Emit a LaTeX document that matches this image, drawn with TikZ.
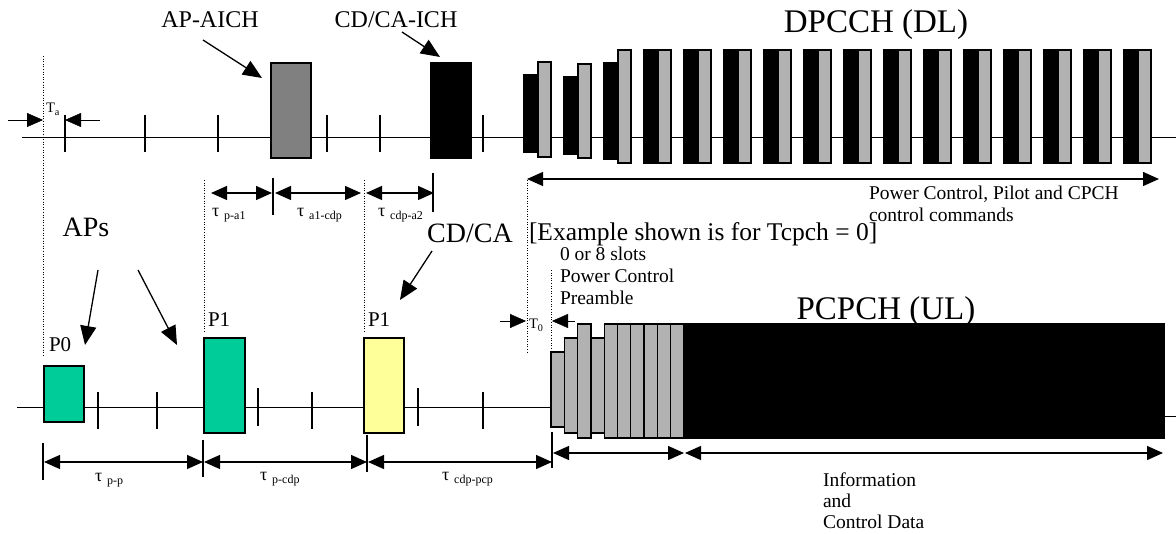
\documentclass[tikz,border=0pt]{standalone}
\usepackage{fontspec}
\setmainfont{Liberation Serif}
\usepackage{xcolor}
\usepackage{tikz}
\usetikzlibrary{arrows.meta}
\definecolor{PGreen}{HTML}{00CC99}
\definecolor{PYellow}{HTML}{FFFF99}
\definecolor{PGray}{HTML}{B2B2B2}
\definecolor{AGray}{HTML}{808080}
\newcommand{\taulbl}[1]{{\fontsize{18}{18}\selectfont τ}\hspace{5pt}\raisebox{-3pt}{\fontsize{12}{12}\selectfont #1}}
\tikzset{%Global config
	>={Triangle[length=16pt,width=14pt]},
	x=1pt, y=-1pt,
	color = black ,
	line width=1.3pt,
	%Styles
	Tick/.style={line width=1.3pt},
	Guide/.style={
		line width=0.9pt,
		dash pattern=on 1pt off 1.6pt,
	},
	Slot/.style={
		draw=black,
		line width=1.3pt,
		inner sep=0pt,
		outer sep=0pt,
		anchor=north west,
	},
	Bar/.style={draw=black, line width=1.3pt},
	Dim/.style={<->, line width=1.3pt},
	Ptr/.style={-{Triangle[length=19pt,width=16pt]}, line width=1.3pt},
	Txt/.style={inner sep=0pt, outer sep=0pt, anchor=base},
	FBig/.style={font=\fontsize{33}{36}\selectfont},
	FMid/.style={font=\fontsize{28}{30}\selectfont},
	FEx/.style={font=\fontsize{25.5}{28}\selectfont},
	FAich/.style={font=\fontsize{24}{26}\selectfont},
	FP/.style={font=\fontsize{21}{23}\selectfont},
	FSmall/.style={font=\fontsize{19.5}{22}\selectfont},
	FInfo/.style={font=\fontsize{19.5}{21}\selectfont},
	FT/.style={font=\fontsize{14.5}{16}\selectfont},
}

\begin{document}
\begin{tikzpicture}
	\useasboundingbox (0,0) rectangle (1176,534);
	
	% DL time axis
	\draw (22,137) -- (1176,137);
	\foreach \t in {65,145,218,327,380,483}{
		\draw[Tick] (\t,115) -- (\t,152);
	}
	% UL time axis
	\draw (17,407) -- (551,407);
	\draw (1164,416) -- (1176,416);
	\foreach \t/\a/\b in {98/392/429,157/392/429,258/388/426,312/392/429,418/388/426,483/392/429}{
		\draw[Tick] (\t,\a) -- (\t,\b);
	}
	
	% dotted guides
	\draw[Guide] (43,56) -- (43,357);
	\draw[Guide] (204,180) -- (204,332);
	\draw[Guide] (364,180) -- (364,332);
	\draw[Guide] (527,180) -- (527,353);
	\draw[Guide] (551,270) -- (551,352);
	
	% DL indicators
	\node[Slot, fill=AGray, minimum width=40, minimum height=95] (apaich) at (271,63) {};
	\node[Slot, fill=black, minimum width=40, minimum height=95] (cdaich) at (431,63) {};
	
	% DPCCH slots (first three ramp up)
	\foreach \k/\bt/\bb/\gt/\gb in {0/75/152/62/157, 1/77/154/64/158, 2/63/159/50/163}{
		\draw[Bar, fill=black] (524+40*\k,\bt) rectangle (538+40*\k,\bb);
		\draw[Bar, fill=PGray] (538+40*\k,\gt) rectangle (551+40*\k,\gb);
	}
	\foreach \k in {3,...,15}{
		\draw[Bar, fill=black] (524+40*\k,50) rectangle (538+40*\k,163);
		\draw[Bar, fill=PGray] (538+40*\k,50) rectangle (551+40*\k,163);
	}
	
	% UL preambles
	\node[Slot, fill=PGreen, minimum width=40, minimum height=56] (pzero) at (44,366) {};
	\node[Slot, fill=PGreen, minimum width=41, minimum height=95] (pone) at (204,338) {};
	\node[Slot, fill=PYellow, minimum width=40, minimum height=95] (cdp) at (364,338) {};
	
	% PCPCH power control preamble and message
	\foreach \i/\t/\b in {0/352/427,1/338/433,2/324/438,3/338/433,4/324/438,5/324/438,6/324/438,7/324/438,8/324/438,9/324/438}{
		\draw[Bar, fill=PGray] (551+13.3*\i,\t) rectangle (564.3+13.3*\i,\b);
	}
	\node[Slot, fill=black, minimum width=480, minimum height=114] (ulbody) at (684,324) {};
	
	% labels
	\node[Txt, FBig] (dllbl) at (876,33) {DPCCH (DL)};
	\node[Txt, FBig] (ullbl) at (886,320) {PCPCH (UL)};
	\node[Txt, FMid] (aplbl) at (86,237) {APs};
	\node[Txt, FMid] (cdlbl) at (470,243) {CD/CA};
	\node[Txt, FAich] (apaichlbl) at (210,28) {AP-AICH};
	\node[Txt, FAich] (cdaichlbl) at (396,28) {CD/CA-ICH};
	\node[Txt, FP, anchor=base west] (pzerolbl) at (49,352) {P0};
	\node[Txt, FP, anchor=base west] (ponelbl) at (208,327) {P1};
	\node[Txt, FP, anchor=base west] (cdplbl) at (368,327) {P1};
	\node[Txt, FEx, anchor=base west] (exlbl) at (529,241) {[Example shown is for Tcpch = 0]};
	% multi-line nodes: base is the last line
	\node[Txt, FSmall, anchor=base west, align=left] (dlcmdlbl) at (869,222) {Power Control, Pilot and CPCH\\control commands};
	\node[Txt, FSmall, anchor=base west, align=left] (pcplbl) at (560,305) {0 or 8 slots\\Power Control\\Preamble};
	\node[Txt, FInfo, anchor=base west, align=left] (infolbl) at (823,529) {Information\\and\\Control Data};
	\node[Txt, FT, anchor=base west] (talbl) at (46,113) {T\textsubscript{a}};
	\node[Txt, FT, anchor=base west] (tzerolbl) at (529,329) {T\textsubscript{0}};
	\node[Txt, anchor=base west] (tpalbl) at (212,217) {\taulbl{p-a1}};
	\node[Txt, anchor=base west] (tacdlbl) at (297,217) {\taulbl{a1-cdp}};
	\node[Txt, anchor=base west] (tcdalbl) at (378,217) {\taulbl{cdp-a2}};
	\node[Txt, anchor=base west] (tpplbl) at (95,482) {\taulbl{p-p}};
	\node[Txt, anchor=base west] (tpcdlbl) at (260,481) {\taulbl{p-cdp}};
	\node[Txt, anchor=base west] (tcdpclbl) at (442,481) {\taulbl{cdp-pcp}};
	
	% pointers
	\draw[Ptr] ([shift={(-7,12)}]apaichlbl.base) -- ([shift={(-9,15)}]apaich.north west);
	\draw[Ptr] ([shift={(6,4)}]cdaichlbl.base) -- ([shift={(9,-6)}]cdaich.north west);
	\draw[Ptr] ([shift={(12,33)}]aplbl.base) -- ([shift={(41,-21)}]pzero.north west);
	\draw[Ptr] ([shift={(52,33)}]aplbl.base) -- ([shift={(-27,7)}]pone.north west);
	\draw[Ptr] ([shift={(-38,8)}]cdlbl.base) -- ([shift={(36,-38)}]cdp.north west);
	
	% timing marks
	\coordinate (taa) at (8,120);
	\coordinate (tab) at (43,120);
	\coordinate (tac) at (100,120);
	\coordinate (tad) at (65,120);
	\draw[->] (taa) -- (tab);
	\draw[->] (tac) -- (tad);
	\coordinate (t0a) at (500,321);
	\coordinate (t0b) at (526,321);
	\coordinate (t0c) at (575,321);
	\coordinate (t0d) at (552,321);
	\draw[->] (t0a) -- (t0b);
	\draw[->] (t0c) -- (t0d);
	
	% DL intervals
	\draw[Tick] (273,178) -- (273,215);
	\draw[Tick] (433,173) -- (433,212);
	\coordinate (da) at (211,193);
	\coordinate (db) at (272,193);
	\coordinate (dc) at (275,193);
	\coordinate (dd) at (361,193);
	\coordinate (de) at (366,193);
	\coordinate (df) at (434,193);
	\draw[Dim] (da) -- (db);
	\draw[Dim] (dc) -- (dd);
	\draw[Dim] (de) -- (df);
	\coordinate (dg) at (527,179);
	\coordinate (dh) at (1159,179);
	\draw[Dim] (dg) -- (dh);
	
	% UL intervals
	\draw[Tick] (43,443) -- (43,480);
	\draw[Tick] (203,440) -- (203,477);
	\draw[Tick] (367,435) -- (367,472);
	\draw[Tick] (552,432) -- (552,468);
	\coordinate (ua) at (44,462);
	\coordinate (ub) at (203,462);
	\coordinate (uc) at (204,462);
	\coordinate (ud) at (367,462);
	\coordinate (ue) at (368,462);
	\coordinate (uf) at (552,462);
	\coordinate (ug) at (553,453);
	\coordinate (uh) at (684,453);
	\coordinate (ui) at (685,453);
	\coordinate (uj) at (1163,453);
	\draw[Dim] (ua) -- (ub);
	\draw[Dim] (uc) -- (ud);
	\draw[Dim] (ue) -- (uf);
	\draw[Dim] (ug) -- (uh);
	\draw[Dim] (ui) -- (uj);
\end{tikzpicture}
\end{document}
